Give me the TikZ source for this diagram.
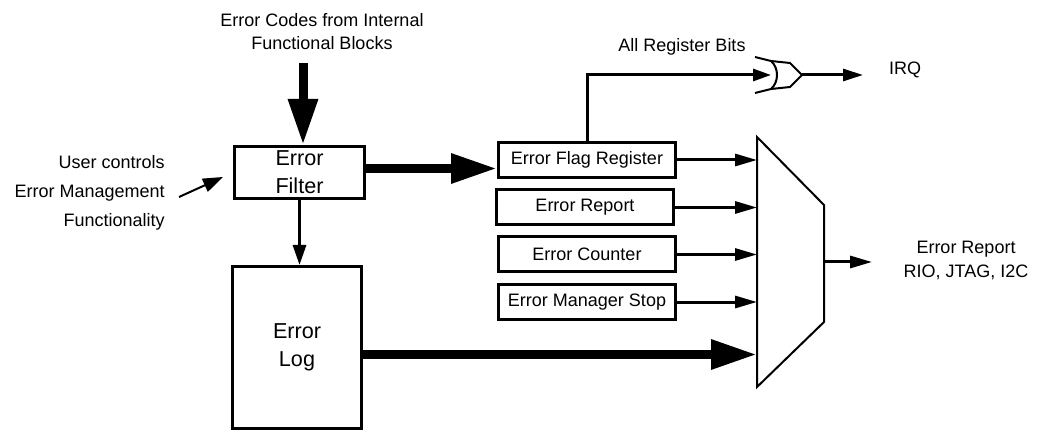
\documentclass[tikz,border=0pt]{standalone}
\usepackage{fontspec}
\setmainfont{Liberation Sans}
\usetikzlibrary{arrows}
\usetikzlibrary{arrows.meta}

\begin{document}
\begin{tikzpicture}[x=0.5pt,y=-0.5pt,
    blk/.style={draw,line width=1.5pt,inner sep=0pt,minimum width=88.5pt,minimum height=17.5pt,font=\fontsize{9}{11.5}\selectfont},
    bigblk/.style={draw,line width=1.5pt,inner sep=0pt,align=center,font=\fontsize{10.8}{14}\selectfont},
    lbl/.style={align=center,inner sep=0pt,font=\fontsize{9}{11.5}\selectfont},
    fat/.style={line width=4.5pt,-{Triangle[length=23pt,width=14pt]}},
    wire/.style={line width=1.5pt,-{Triangle[length=11pt,width=6pt]}}]

    \useasboundingbox (0,0) rectangle (1047,432);

    % draw blocks
    \node[bigblk,minimum width=65pt,minimum height=26pt] (filter) at (299.5,172.5) {Error\\Filter};
    \node[bigblk,minimum width=64.5pt,minimum height=81pt] (log) at (297,347.5) {Error\\Log};
    \node[blk] (flag) at (587,160) {Error Flag Register};
    \node[blk] (report) at (585,207.5) {Error Report};
    \node[blk] (counter) at (587,254.5) {Error Counter};
    \node[blk] (stop) at (587,302) {Error Manager Stop};

    % draw mux
    \coordinate (muxtop) at (757,137);
    \coordinate (muxout) at (824,262);
    \draw[line width=1pt] (muxtop) -- (824,205) -- (824,322) -- (757,387) -- cycle;

    % draw OR gate
    \coordinate (orin) at (771,75);
    \coordinate (orout) at (802,75);
    \draw[line width=1pt] (755,57) -- (771,61) .. controls (779,68) and (779,82) .. (771,89) -- (755,93);
    \draw[line width=1pt] (771,61) -- (790,63) -- (orout) -- (790,87) -- (771,89);

    % draw labels
    \node[lbl] (codes) at (322,31.5) {Error Codes from Internal\\Functional Blocks};
    \node[lbl] (bits) at (682,47) {All Register Bits};
    \node[lbl] (irq) at (905,70) {IRQ};
    \node[lbl,align=right,anchor=east,font=\fontsize{9}{14.5}\selectfont] (user) at (165,193) {User controls\\Error Management\\Functionality};
    \node[lbl,font=\fontsize{9}{12}\selectfont] (out) at (966,260) {Error Report\\RIO, JTAG, I2C};

    % draw arrows
    \coordinate (codesin) at (303,63);
    \draw[fat] (codesin) -- (codesin |- filter.north);
    \draw[fat] ([yshift=2pt]filter.east) -- ([yshift=2pt]filter.east -| flag.west);
    \draw[fat] ([yshift=-3.5pt]log.east) -- ([yshift=-3.5pt]log.east -| muxtop);
    \draw[wire,-{Triangle[length=10pt,width=6.5pt]}] (filter.south) -- (filter.south |- log.north);
    \foreach \b in {flag,report,counter,stop}
        \draw[wire] (\b.east) -- (\b.east -| muxtop);
    \coordinate (outtip) at (872,262);
    \draw[wire] (muxout) -- (outtip);
    \draw[wire,-{Triangle[length=9pt,width=6pt]}] (flag.north) |- (orin);
    \coordinate (irqin) at (863,75);
    \draw[wire,-{Triangle[length=10pt,width=6pt]}] (orout) -- (irqin);
    \coordinate (usera) at (179,197);
    \coordinate (userb) at (223,177);
    \draw[line width=1pt,-{Triangle[length=10pt,width=7pt]}] (usera) -- (userb);
\end{tikzpicture}
\end{document}
